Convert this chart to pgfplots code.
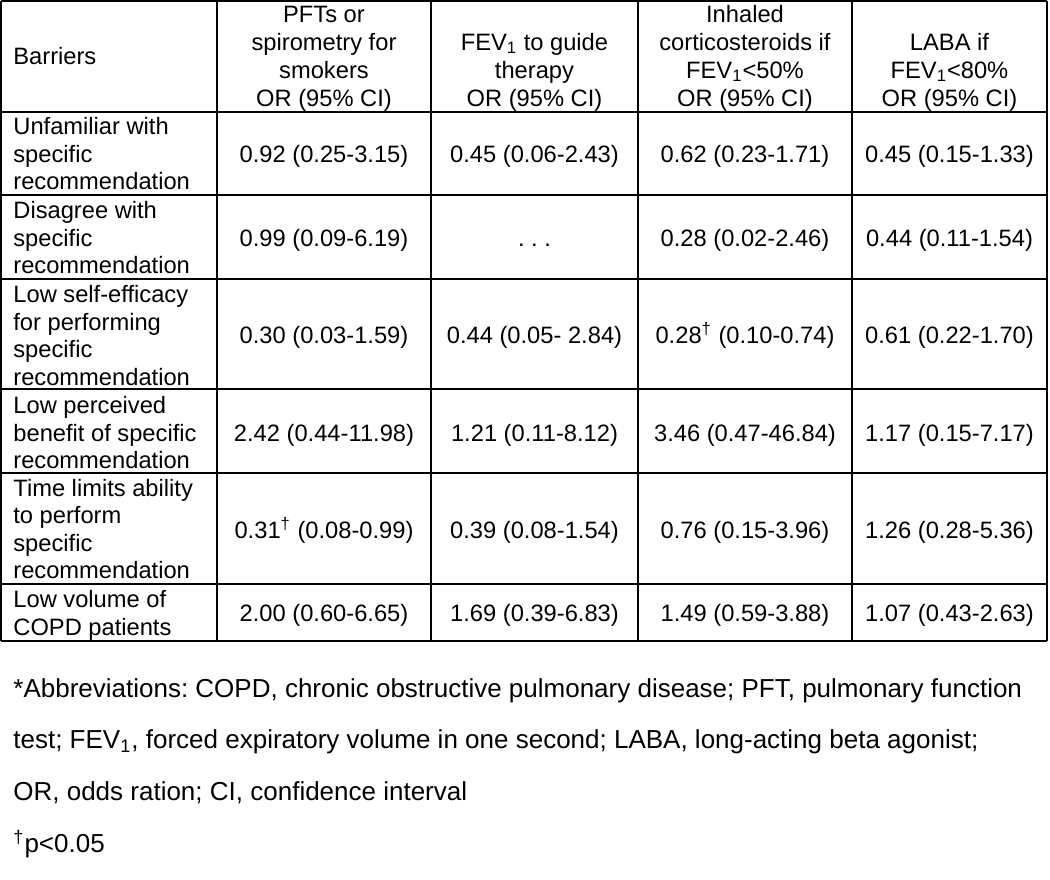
\documentclass[border=0pt]{standalone}
\usepackage{fontspec}
\setmainfont{Liberation Sans}
\usepackage{pgfplots}
\pgfplotsset{compat=1.18}
\frenchspacing
\newcommand{\Cc}[3]{\node[anchor=base,inner sep=0pt,font=\fontsize{11.85}{14}\selectfont] at (axis cs:#1,#2) {#3};}
\newcommand{\Lc}[2]{\node[anchor=base west,inner sep=0pt,font=\fontsize{11.85}{14}\selectfont] at (axis cs:13,#1) {#2};}
\newcommand{\Fc}[2]{\node[anchor=base west,inner sep=0pt,font=\fontsize{13}{16}\selectfont] at (axis cs:13,#1) {#2};}
\begin{document}
\frenchspacing
\begin{tikzpicture}
\begin{axis}[
  hide axis, scale only axis, clip=false,
  width=525pt, height=439.5pt,
  xmin=0, xmax=1050, ymin=0, ymax=879, y dir=reverse,
]
% horizontal rules
\foreach \yy in {1.2,112,195,279,389,473,584,641}{
  \edef\tmp{\noexpand\addplot[black,line width=0.8pt,forget plot] coordinates {(1.2,\yy) (1047,\yy)};}\tmp
}
% vertical rules
\foreach \xx in {1.2,217,431,638,852,1047}{
  \edef\tmp{\noexpand\addplot[black,line width=0.8pt,forget plot] coordinates {(\xx,1.2) (\xx,641)};}\tmp
}
% header
\Lc{64}{Barriers}
\Cc{324}{22.5}{PFTs or}
\Cc{324}{50.3}{spirometry for}
\Cc{324}{78}{smokers}
\Cc{324}{106}{OR (95\% CI)}
\Cc{534.5}{50.3}{FEV\textsubscript{1} to guide}
\Cc{534.5}{78}{therapy}
\Cc{534.5}{106}{OR (95\% CI)}
\Cc{745}{22.5}{Inhaled}
\Cc{745}{50.3}{corticosteroids if}
\Cc{745}{78}{FEV\textsubscript{1}<50\%}
\Cc{745}{106}{OR (95\% CI)}
\Cc{949.5}{50.3}{LABA if}
\Cc{949.5}{78}{FEV\textsubscript{1}<80\%}
\Cc{949.5}{106}{OR (95\% CI)}
% row 1
\Lc{134.5}{Unfamiliar with}
\Lc{162}{specific}
\Lc{189.5}{recommendation}
\Cc{324}{162}{0.92 (0.25-3.15)}
\Cc{534.5}{162}{0.45 (0.06-2.43)}
\Cc{745}{162}{0.62 (0.23-1.71)}
\Cc{949.5}{162}{0.45 (0.15-1.33)}
% row 2
\Lc{218.3}{Disagree with}
\Lc{246}{specific}
\Lc{273.5}{recommendation}
\Cc{324}{246}{0.99 (0.09-6.19)}
\Cc{534.5}{246}{. . .}
\Cc{745}{246}{0.28 (0.02-2.46)}
\Cc{949.5}{246}{0.44 (0.11-1.54)}
% row 3
\Lc{302.7}{Low self-efficacy}
\Lc{330}{for performing}
\Lc{357.5}{specific}
\Lc{385}{recommendation}
\Cc{324}{343.5}{0.30 (0.03-1.59)}
\Cc{534.5}{343.5}{0.44 (0.05- 2.84)}
\Cc{745}{343.5}{0.28\textsuperscript{†} (0.10-0.74)}
\Cc{949.5}{343.5}{0.61 (0.22-1.70)}
% row 4
\Lc{413.3}{Low perceived}
\Lc{441}{benefit of specific}
\Lc{468.5}{recommendation}
\Cc{324}{441}{2.42 (0.44-11.98)}
\Cc{534.5}{441}{1.21 (0.11-8.12)}
\Cc{745}{441}{3.46 (0.47-46.84)}
\Cc{949.5}{441}{1.17 (0.15-7.17)}
% row 5
\Lc{496}{Time limits ability}
\Lc{523.5}{to perform}
\Lc{551}{specific}
\Lc{578.5}{recommendation}
\Cc{324}{538}{0.31\textsuperscript{†} (0.08-0.99)}
\Cc{534.5}{538}{0.39 (0.08-1.54)}
\Cc{745}{538}{0.76 (0.15-3.96)}
\Cc{949.5}{538}{1.26 (0.28-5.36)}
% row 6
\Lc{607.7}{Low volume of}
\Lc{635}{COPD patients}
\Cc{324}{621.7}{2.00 (0.60-6.65)}
\Cc{534.5}{621.7}{1.69 (0.39-6.83)}
\Cc{745}{621.7}{1.49 (0.59-3.88)}
\Cc{949.5}{621.7}{1.07 (0.43-2.63)}
% footnotes
\Fc{697}{*Abbreviations: COPD, chronic obstructive pulmonary disease; PFT, pulmonary function}
\Fc{748}{test; FEV\textsubscript{1}, forced expiratory volume in one second; LABA, long-acting beta agonist;}
\Fc{800}{OR, odds ration; CI, confidence interval}
\Fc{852}{\textsuperscript{†}p<0.05}
\end{axis}
\path (current axis.south west) rectangle (current axis.north east);
\end{tikzpicture}
\end{document}
